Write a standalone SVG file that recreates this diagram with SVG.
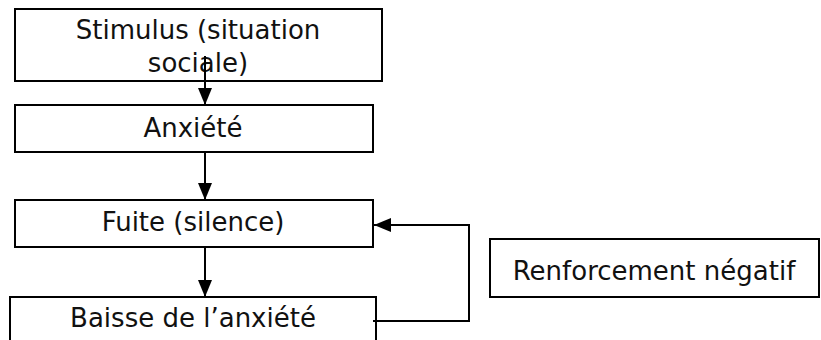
<svg xmlns="http://www.w3.org/2000/svg" width="821" height="340" viewBox="0 0 821 340">
<defs>
<style>
.box{fill:#fff;stroke:#000;stroke-width:2}
.t{font-family:"DejaVu Sans",Verdana,sans-serif;font-size:26px;fill:#111;text-anchor:middle}
.c{fill:none;stroke:#000;stroke-width:2}
</style>
<marker id="ah" markerWidth="17" markerHeight="14" refX="17" refY="7" viewBox="0 0 17 14" markerUnits="userSpaceOnUse" orient="auto">
<path d="M0,0 L17,7 L0,14 Z" fill="#000"/>
</marker>
</defs>
<rect width="821" height="340" fill="#fff"/>
<g id="n1"><rect class="box" x="15" y="9" width="367" height="72"/>
<text class="t" x="198" y="39">Stimulus (situation</text>
<text class="t" x="198" y="72">sociale)</text></g>
<g id="n2"><rect class="box" x="15" y="105" width="358" height="47"/>
<text class="t" x="193" y="137">Anxiété</text></g>
<g id="n3"><rect class="box" x="15" y="200" width="358" height="47"/>
<text class="t" x="193" y="231">Fuite (silence)</text></g>
<g id="n4"><rect class="box" x="10" y="297" width="366" height="60"/>
<text class="t" x="193" y="327">Baisse de l’anxiété</text></g>
<g id="n5"><rect class="box" x="490" y="239" width="329" height="58"/>
<text class="t" x="654" y="280">Renforcement négatif</text></g>
<g id="connectors">
<path class="c" d="M205,56 V105" marker-end="url(#ah)"/>
<path class="c" d="M205,152 V200" marker-end="url(#ah)"/>
<path class="c" d="M205,247 V297" marker-end="url(#ah)"/>
<path class="c" d="M373,321 H469 V225 H374" marker-end="url(#ah)"/>
</g>
</svg>
